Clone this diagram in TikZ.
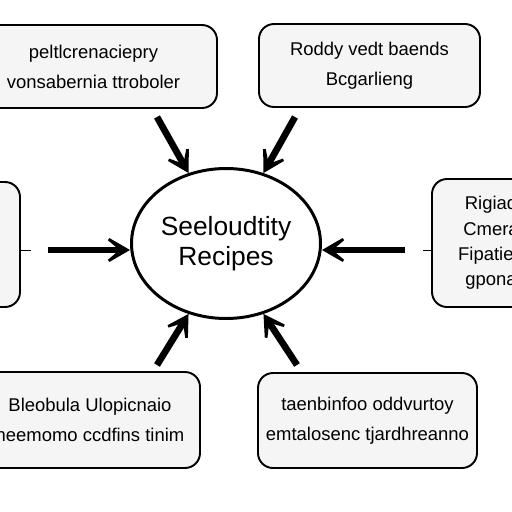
\documentclass[tikz,border=0pt]{standalone}
\usepackage{fontspec}
\setmainfont{Liberation Sans}
\usetikzlibrary{arrows.meta,shapes.geometric,positioning,calc}

\begin{document}
\begin{tikzpicture}[font=\fontsize{10.5}{17}\selectfont,
  card/.style={draw, line width=1.1pt, rounded corners=0.3cm, fill=gray!8, align=center},
  push/.style={-{Stealth[length=19pt, width=22pt, inset=13pt]}, line width=3.8pt}]
  \clip (0,0) rectangle (10.24,-10.24);
  \fill[white] (0,0) rectangle (10.24,-10.24);
  % boxes round the hub
  \node[card, minimum width=4.94cm, minimum height=1.66cm] (tlbox) at (1.87,-1.33) {peltlcrenaciepry\\vonsabernia ttroboler};
  \node[card, minimum width=4.42cm, minimum height=1.66cm] (trbox) at (7.39,-1.31) {Roddy vedt baends\\Bcgarlieng};
  \node[card, minimum width=2.4cm, minimum height=2.5cm] (lbox) at (-0.8,-4.89) {};
  \node[card, minimum width=2.36cm, minimum height=2.56cm, font=\fontsize{10.5}{14.5}\selectfont] (rbox) at (9.82,-4.86) {Rigiad\\Cmera\\Fipatied\\gpona};
  \node[card, minimum width=4.4cm, minimum height=1.92cm] (blbox) at (1.8,-8.4) {Bleobula Ulopicnaio\\heemomo ccdfins tinim};
  \node[card, minimum width=4.38cm, minimum height=1.9cm] (brbox) at (7.35,-8.41) {taenbinfoo oddvurtoy\\emtalosenc tjardhreanno};
  % hub
  \node[draw, ellipse, line width=1.7pt, fill=white, inner sep=0pt, minimum width=3.78cm, minimum height=3.0cm,
        align=center, font=\fontsize{15}{17}\selectfont] (hub) at (4.52,-4.87) {Seeloudtity\\Recipes};
  % arrow tails and ticks
  \coordinate (tltail) at (3.14,-2.34);
  \coordinate (trtail) at (5.9,-2.34);
  \coordinate (bltail) at (3.14,-7.3);
  \coordinate (brtail) at (5.94,-7.3);
  \coordinate (ltail) at (0.96,-5.0);
  \coordinate (rtail) at (8.1,-5.0);
  \coordinate (ltick) at (0.62,-5.0);
  \coordinate (rtick) at (8.46,-5.0);
  \draw[push] (tltail) -- (hub.118);
  \draw[push] (trtail) -- (hub.62);
  \draw[push] (bltail) -- (hub.242);
  \draw[push] (brtail) -- (hub.298);
  \draw[push] (ltail) -- (ltail -| hub.west);
  \draw[push] (rtail) -- (rtail -| hub.east);
  \draw[thin] (ltick -| lbox.east) -- (ltick);
  \draw[thin] (rtick) -- (rtick -| rbox.west);
\end{tikzpicture}
\end{document}
